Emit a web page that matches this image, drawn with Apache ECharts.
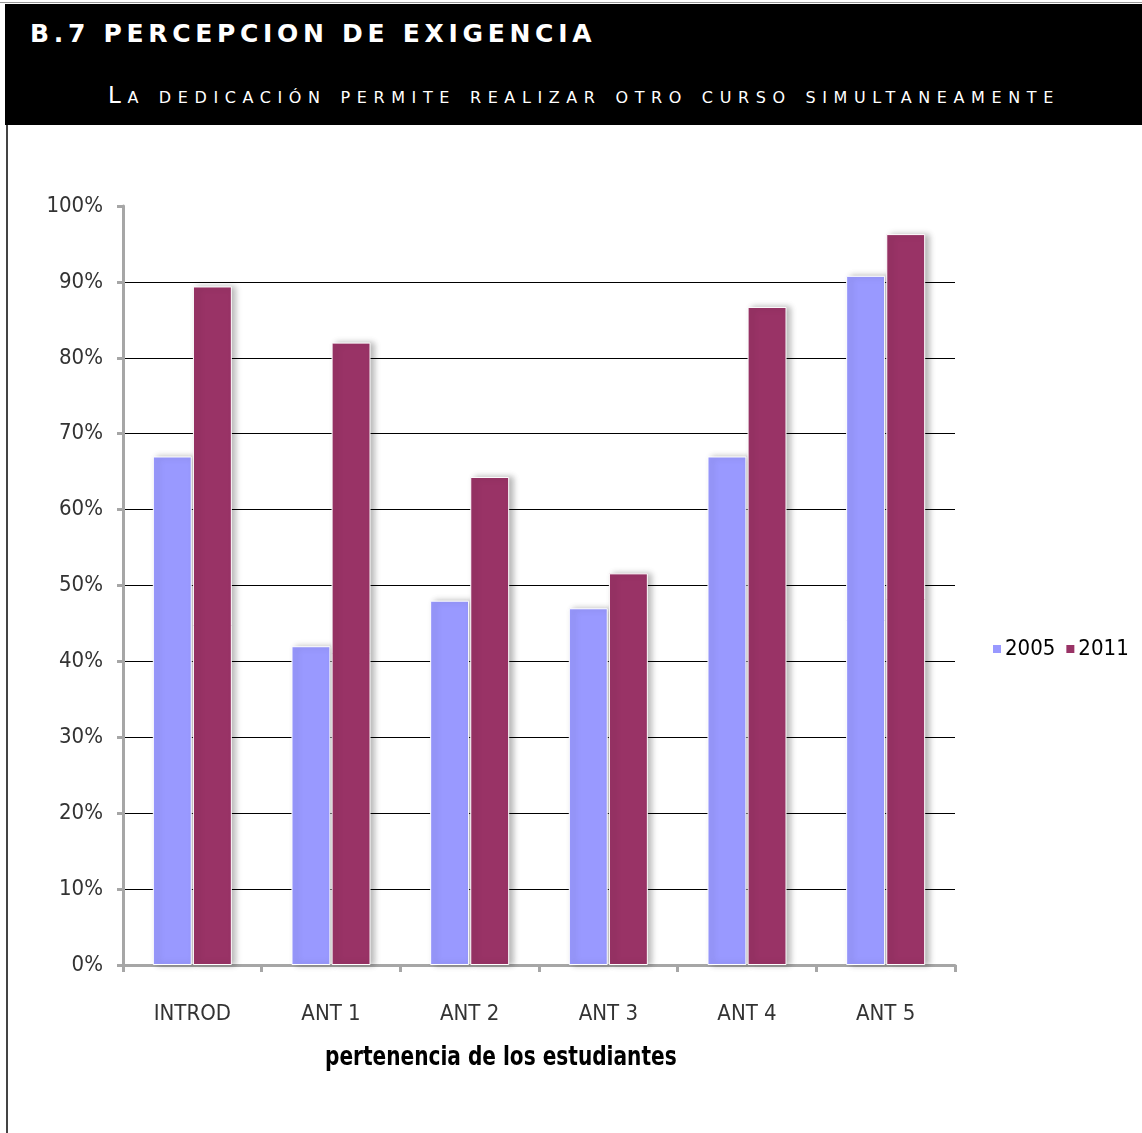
<!DOCTYPE html>
<html>
<head>
<meta charset="utf-8">
<script src="https://cdn.jsdelivr.net/npm/echarts@6/dist/echarts.min.js"></script>
<style>
  html, body { margin: 0; padding: 0; background: #fff; }
  #page { position: relative; width: 1142px; height: 1133px; overflow: hidden; }
  #chart { position: absolute; left: 0; top: 0; width: 1142px; height: 1133px; }
  .head {
    position: absolute; left: 5px; top: 4px; width: 1137px; height: 121px;
    background: #000; color: #fff; font-family: 'DejaVu Sans', sans-serif;
  }
  .head .t1 {
    position: absolute; left: 25px; top: 15px;
    font-size: 25px; font-weight: bold; letter-spacing: 4.7px; white-space: nowrap;
  }
  .head .t2 {
    position: absolute; left: 103px; top: 78px;
    font-size: 23px; font-variant: small-caps; letter-spacing: 6.6px; white-space: nowrap;
  }
  .edge { position: absolute; left: 6px; top: 125px; width: 2px; height: 1008px; background: #444; }
  .topline { position: absolute; left: 0; top: 2px; width: 1142px; height: 1px; background: #999; }
</style>
</head>
<body>
<div id="page">
  <div id="chart"></div>
  <div class="topline"></div>
  <div class="head">
    <div class="t1">B.7 PERCEPCION DE EXIGENCIA</div>
    <div class="t2">La dedicación permite realizar otro curso simultaneamente</div>
  </div>
  <div class="edge"></div>
</div>
<script>
const categories = ['INTROD', 'ANT 1', 'ANT 2', 'ANT 3', 'ANT 4', 'ANT 5'];
const values2005 = [0.67, 0.42, 0.48, 0.47, 0.67, 0.908];
const values2011 = [0.894, 0.82, 0.643, 0.516, 0.867, 0.963];
const yTicks = ['0%', '10%', '20%', '30%', '40%', '50%', '60%', '70%', '80%', '90%', '100%'];

const narrow = "'Liberation Sans Narrow', 'DejaVu Sans Condensed', 'DejaVu Sans', sans-serif";

const chart = echarts.init(document.getElementById('chart'));

// no gridline on the 100% level, only the tick
const gridColors = yTicks.map((t, i) => (i === yTicks.length - 1 ? 'rgba(0,0,0,0)' : '#000'));

const barStyle = (color) => ({
  color: color,
  borderColor: '#fff',
  borderWidth: 1,
  shadowColor: 'rgba(0,0,0,0.28)',
  shadowBlur: 6,
  shadowOffsetX: 4,
  shadowOffsetY: 0,
});

chart.setOption({
  animation: false,
  backgroundColor: '#fff',
  grid: { left: 123, right: 187, top: 206, bottom: 168, containLabel: false },
  legend: {
    left: 986,
    top: 633,
    width: 160,
    orient: 'horizontal',
    itemWidth: 10,
    itemHeight: 10,
    itemGap: 9,
    icon: 'rect',
    textStyle: { fontFamily: narrow, fontSize: 22, color: '#000', padding: [0, 0, 0, -2] },
    data: ['2005', '2011'],
  },
  xAxis: {
    type: 'category',
    data: categories,
    boundaryGap: true,
    axisLine: { lineStyle: { color: '#a6a6a6', width: 3 } },
    axisTick: { show: true, alignWithLabel: false, length: 7, lineStyle: { color: '#a6a6a6', width: 3 } },
    axisLabel: { fontFamily: narrow, fontSize: 22, color: '#333', margin: 38 },
  },
  yAxis: {
    type: 'value',
    min: 0,
    max: 1,
    interval: 0.1,
    axisLine: { show: true, lineStyle: { color: '#a6a6a6', width: 3 } },
    axisTick: { show: true, length: 6, lineStyle: { color: '#a6a6a6', width: 3 } },
    axisLabel: {
      fontFamily: narrow, fontSize: 22, color: '#333', margin: 20,
      formatter: (v) => yTicks[Math.round(v * 10)],
    },
    splitLine: { show: true, lineStyle: { color: gridColors, width: 1 } },
  },
  graphic: [
    {
      type: 'text',
      x: 325,
      y: 1045,
      scaleX: 0.86,
      style: {
        text: 'pertenencia de los estudiantes',
        fontFamily: narrow,
        fontWeight: 'bold',
        fontSize: 26,
        fill: '#000',
      },
    },
  ],
  series: [
    {
      name: '2005',
      type: 'bar',
      data: values2005,
      barGap: '3%',
      barCategoryGap: '43%',
      itemStyle: barStyle('#9999FF'),
    },
    {
      name: '2011',
      type: 'bar',
      data: values2011,
      itemStyle: barStyle('#993366'),
    },
  ],
});
</script>
</body>
</html>
